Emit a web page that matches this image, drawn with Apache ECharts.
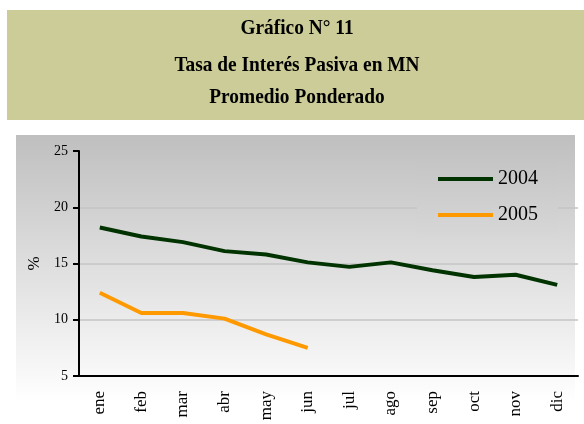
<!DOCTYPE html>
<html>
<head>
<meta charset="utf-8">
<script src="https://cdn.jsdelivr.net/npm/echarts@6/dist/echarts.min.js"></script>
<style>
  html, body { margin: 0; padding: 0; background: #fff; }
  #chart { width: 584px; height: 424px; }
</style>
</head>
<body>
<div id="chart"></div>
<script>
(function() {
  var meses = ['ene', 'feb', 'mar', 'abr', 'may', 'jun', 'jul', 'ago', 'sep', 'oct', 'nov', 'dic'];
  var tasa2004 = [18.2, 17.4, 16.9, 16.1, 15.8, 15.1, 14.7, 15.1, 14.4, 13.8, 14.0, 13.1];
  var tasa2005 = [12.4, 10.6, 10.6, 10.1, 8.7, 7.5];
  var titulos = ['Gráfico N° 11', 'Tasa de Interés Pasiva en MN', 'Promedio Ponderado'];

  var serif = '"Liberation Serif", "DejaVu Serif", serif';
  var myChart = echarts.init(document.getElementById('chart'));

  // degradado del fondo (arriba gris, abajo blanco)
  var grisArriba = 191, boxTop = 135, boxH = 267;
  function gris(y) {
    var v = Math.round(grisArriba + (255 - grisArriba) * (y - boxTop) / boxH);
    return 'rgb(' + v + ',' + v + ',' + v + ')';
  }

  function titulo(txt, y) {
    return { type: 'text', x: 297, y: y, scaleX: 0.88, originX: 0, originY: 0,
      style: { text: txt, font: 'bold 22px ' + serif, fill: '#000', textAlign: 'center', textVerticalAlign: 'middle' } };
  }

  var option = {
    backgroundColor: '#fff',
    animation: false,
    graphic: [
      { type: 'rect', z: -10, shape: { x: 7, y: 10, width: 577, height: 110 }, style: { fill: '#cccc99' } },
      { type: 'rect', z: -10, shape: { x: 16, y: boxTop, width: 559, height: boxH },
        style: { fill: new echarts.graphic.LinearGradient(0, 0, 0, 1, [
          { offset: 0, color: gris(boxTop) }, { offset: 1, color: gris(boxTop + boxH) }
        ]) } },
      titulo(titulos[0], 28.5),
      titulo(titulos[1], 65),
      titulo(titulos[2], 97.5)
    ],
    legend: {
      orient: 'vertical',
      left: 417,
      top: 161,
      padding: [8, 20, 8, 21],
      backgroundColor: new echarts.graphic.LinearGradient(0, 0, 0, 1, [
        { offset: 0, color: gris(161) }, { offset: 1, color: gris(161 + 72) }
      ]),
      itemWidth: 55,
      itemHeight: 4,
      itemGap: 16,
      icon: 'rect',
      textStyle: { fontFamily: serif, fontSize: 20, color: '#000', lineHeight: 20 },
      data: ['2004', '2005']
    },
    grid: { left: 79, right: 6, top: 151, bottom: 48 },
    xAxis: {
      type: 'category',
      data: meses,
      boundaryGap: true,
      axisLine: { lineStyle: { color: '#000', width: 2 } },
      axisTick: { length: 7, lineStyle: { color: '#000', width: 2 } },
      axisLabel: { rotate: 90, color: '#000', fontFamily: serif, fontSize: 17, margin: 15 }
    },
    yAxis: {
      type: 'value',
      min: 5,
      max: 25,
      interval: 5,
      name: '%',
      nameLocation: 'middle',
      nameGap: 36,
      nameRotate: 90,
      nameTextStyle: { fontFamily: serif, fontSize: 17, color: '#000' },
      axisLine: { show: true, lineStyle: { color: '#000', width: 2 } },
      axisTick: { show: true, length: 6, lineStyle: { color: '#000', width: 2 } },
      axisLabel: { color: '#000', fontFamily: serif, fontSize: 14, margin: 11 },
      splitLine: { lineStyle: { color: ['transparent', '#c4c4c4', '#c4c4c4', '#c4c4c4', 'transparent'], width: 1.5 } }
    },
    series: [
      { name: '2004', type: 'line', data: tasa2004, showSymbol: false, symbol: 'none',
        lineStyle: { color: '#003300', width: 4 }, itemStyle: { color: '#003300' } },
      { name: '2005', type: 'line', data: tasa2005, showSymbol: false, symbol: 'none',
        lineStyle: { color: '#ff9900', width: 4 }, itemStyle: { color: '#ff9900' } }
    ]
  };
  myChart.setOption(option);
  window.addEventListener('resize', function() {
    myChart.resize();
  });
})();
</script>
</body>
</html>
